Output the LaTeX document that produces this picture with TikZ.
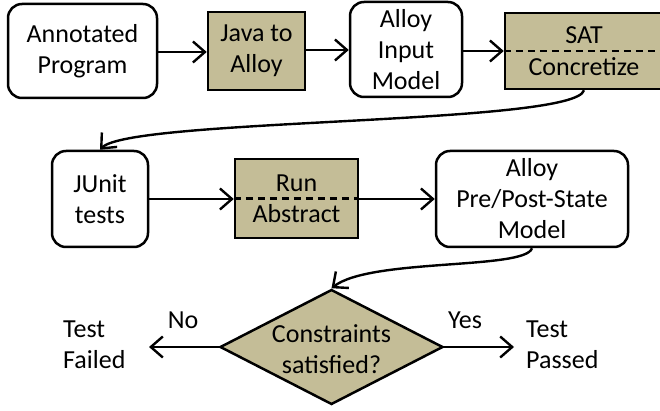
\documentclass[tikz,border=0pt]{standalone}
\usepackage{fontspec}
\setmainfont{Carlito}
\usetikzlibrary{arrows.meta,shapes.geometric}
\definecolor{tan}{HTML}{C4BD97}
\tikzset{
  base/.style={font=\fontsize{26}{31}\selectfont, align=center, inner sep=0pt},
  rbox/.style={base, draw, line width=2.5pt, rounded corners=14pt},
  fbox/.style={base, draw, line width=2.5pt, fill=tan},
  arr/.style={line width=2.4pt, -{Straight Barb[length=12pt,width=21pt]}},
  lbl/.style={base},
  dline/.style={line width=2.2pt, dash pattern=on 7pt off 5pt},
}
\begin{document}
\begin{tikzpicture}[x=1pt,y=-1pt]
\useasboundingbox (0,0) rectangle (660,411);
\clip (0,0) rectangle (660,411);
% top row
\node[rbox, minimum width=149pt, minimum height=94pt] (ann) at (82.5,51) {Annotated\\Program};
\node[fbox, minimum width=97pt, minimum height=78pt] (j2a) at (256.5,51) {Java to\\Alloy};
\node[rbox, minimum width=112pt, minimum height=95pt] (aim) at (406,49.5) {Alloy\\Input\\Model};
\node[fbox, minimum width=158pt, minimum height=76pt] (sat) at (584,51) {SAT\\[1pt]Concretize};
\draw[dline] (sat.west) -- (sat.east);
% middle row
\node[rbox, minimum width=96pt, minimum height=96pt] (junit) at (100,199) {JUnit\\tests};
\node[fbox, minimum width=123pt, minimum height=79pt] (run) at (296.5,198.5) {Run\\Abstract};
\draw[dline] (run.west) -- (run.east);
\node[rbox, minimum width=192pt, minimum height=96pt] (pp) at (532,199) {Alloy\\Pre/Post-State\\Model};
% decision
\node[diamond, draw, fill=tan, line width=2.5pt, minimum width=223pt, minimum height=115pt, inner sep=0pt] (dec) at (331.5,347) {};
\node[base] (dect) at (331.5,349) {Constraints\\satisfied?};
\node[base, align=left, anchor=west] (fail) at (63,345) {Test\\Failed};
\node[base, align=left, anchor=west] (pass) at (526,345) {Test\\Passed};
\node[lbl] (no) at (183,320) {No};
\node[lbl] (yes) at (465,320) {Yes};
\coordinate (failend) at (149,347);
\coordinate (passend) at (514,347);
% connectors
\draw[arr] (ann.east |- 0,52) -- (j2a.west |- 0,52);
\draw[arr] (j2a.east |- 0,50) -- (aim.west |- 0,50);
\draw[arr] (aim.east |- 0,51) -- (sat.west |- 0,51);
\draw[arr] (sat.south) .. controls (575,125) and (130,118) .. (junit.north);
\draw[arr] (junit.east |- 0,199) -- (run.west |- 0,199);
\draw[arr] (run.east |- 0,199) -- (pp.west |- 0,199);
\draw[arr] (pp.south) .. controls (525,270) and (370,258) .. (dec.north);
\draw[arr] (dec.west) -- (failend);
\draw[arr] (dec.east) -- (passend);
\end{tikzpicture}
\end{document}
